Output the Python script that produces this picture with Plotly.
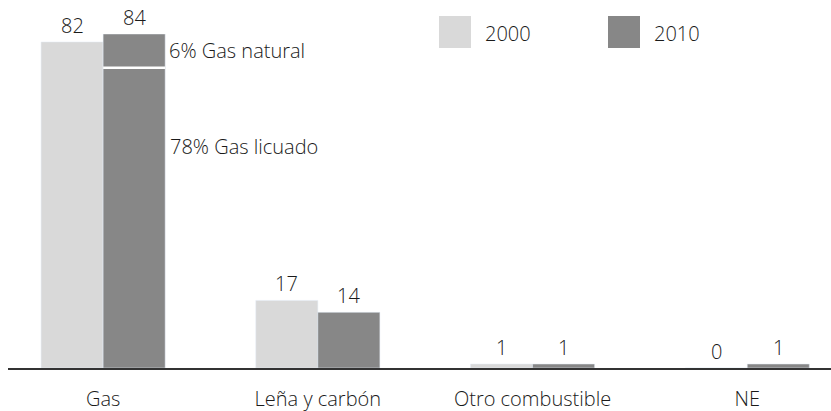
import plotly.graph_objects as go

# --- Data ---
categories = ["Gas", "Leña y carbón", "Otro combustible", "NE"]
values_2000 = [82, 17, 1, 0]
values_2010 = [84, 14, 1, 1]
# Gas 2010 split (bar segment heights as drawn, and their labels)
gas_segment_labels = ["78% Gas licuado", "6% Gas natural"]
gas_segment_heights = [75.5, 8.5]
series_names = ["2000", "2010"]

LIGHT = "#d9d9d9"
DARK = "#878787"
TEXT = "#1a1a1a"
FONT = "Open Sans"
FS = 20

W, H = 831, 411
M_L, M_R, M_T, M_B = 8, 0, 34, 43
BAR_W = 0.289


def paper_x(px):
    return (px - M_L) / (W - M_L - M_R)


def paper_y(py):
    return (H - M_B - py) / (H - M_T - M_B)


fig = go.Figure()
fig.add_trace(go.Bar(x=categories, y=values_2000, name=series_names[0],
                     marker_color=LIGHT, width=BAR_W, offset=-BAR_W))
fig.add_trace(go.Bar(x=categories, y=values_2010, name=series_names[1],
                     marker_color=DARK, width=BAR_W, offset=0))

annotations = []
# value labels over bars
for i, cat in enumerate(categories):
    for vals, shift in ((values_2000, -31), (values_2010, 31)):
        annotations.append(dict(x=i, y=vals[i], xref="x", yref="y", text=str(vals[i]),
                                showarrow=False, xshift=shift, yshift=1,
                                yanchor="bottom", font=dict(size=FS, color=TEXT)))

# white divider between gas segments
shapes = [dict(type="line", xref="x", yref="y", x0=0, x1=BAR_W,
               y0=gas_segment_heights[0], y1=gas_segment_heights[0],
               line=dict(color="white", width=2.5))]

# segment labels
annotations.append(dict(x=BAR_W, y=gas_segment_heights[0] + gas_segment_heights[1] / 2,
                        xref="x", yref="y", text=gas_segment_labels[1], showarrow=False,
                        xanchor="left", xshift=2, font=dict(size=FS, color=TEXT)))
annotations.append(dict(x=BAR_W, y=55.6, xref="x", yref="y", text=gas_segment_labels[0],
                        showarrow=False, xanchor="left", xshift=3,
                        font=dict(size=FS, color=TEXT)))

# custom legend with large square swatches
for name, color, x0 in ((series_names[0], LIGHT, 439), (series_names[1], DARK, 608)):
    shapes.append(dict(type="rect", xref="paper", yref="paper",
                       x0=paper_x(x0), x1=paper_x(x0 + 32), y0=paper_y(48), y1=paper_y(16),
                       fillcolor=color, line_width=0))
    annotations.append(dict(x=paper_x(x0 + 44), y=paper_y(33), xref="paper", yref="paper",
                            text=name, showarrow=False, xanchor="left", yanchor="middle",
                            font=dict(size=FS, color=TEXT)))

fig.update_layout(
    width=W, height=H,
    margin=dict(l=M_L, r=M_R, t=M_T, b=M_B, autoexpand=False),
    barmode="overlay",
    showlegend=False,
    plot_bgcolor="white",
    paper_bgcolor="white",
    font=dict(family=FONT, size=FS, color=TEXT, weight=300),
    shapes=shapes,
    annotations=annotations,
)
fig.update_xaxes(range=[-0.443, 3.39], showline=True, linecolor="#333333", linewidth=1.5,
                 showgrid=False, zeroline=False, ticks="", ticklabelstandoff=12,
                 tickfont=dict(size=FS, color=TEXT, weight=300))
fig.update_yaxes(range=[0, 84], visible=False, showgrid=False, zeroline=False)

# drop the default 8px page margin so the figure fills the window
fig.write_html("out.html", config={"displayModeBar": False},
               post_script="document.body.style.margin='0px';")
